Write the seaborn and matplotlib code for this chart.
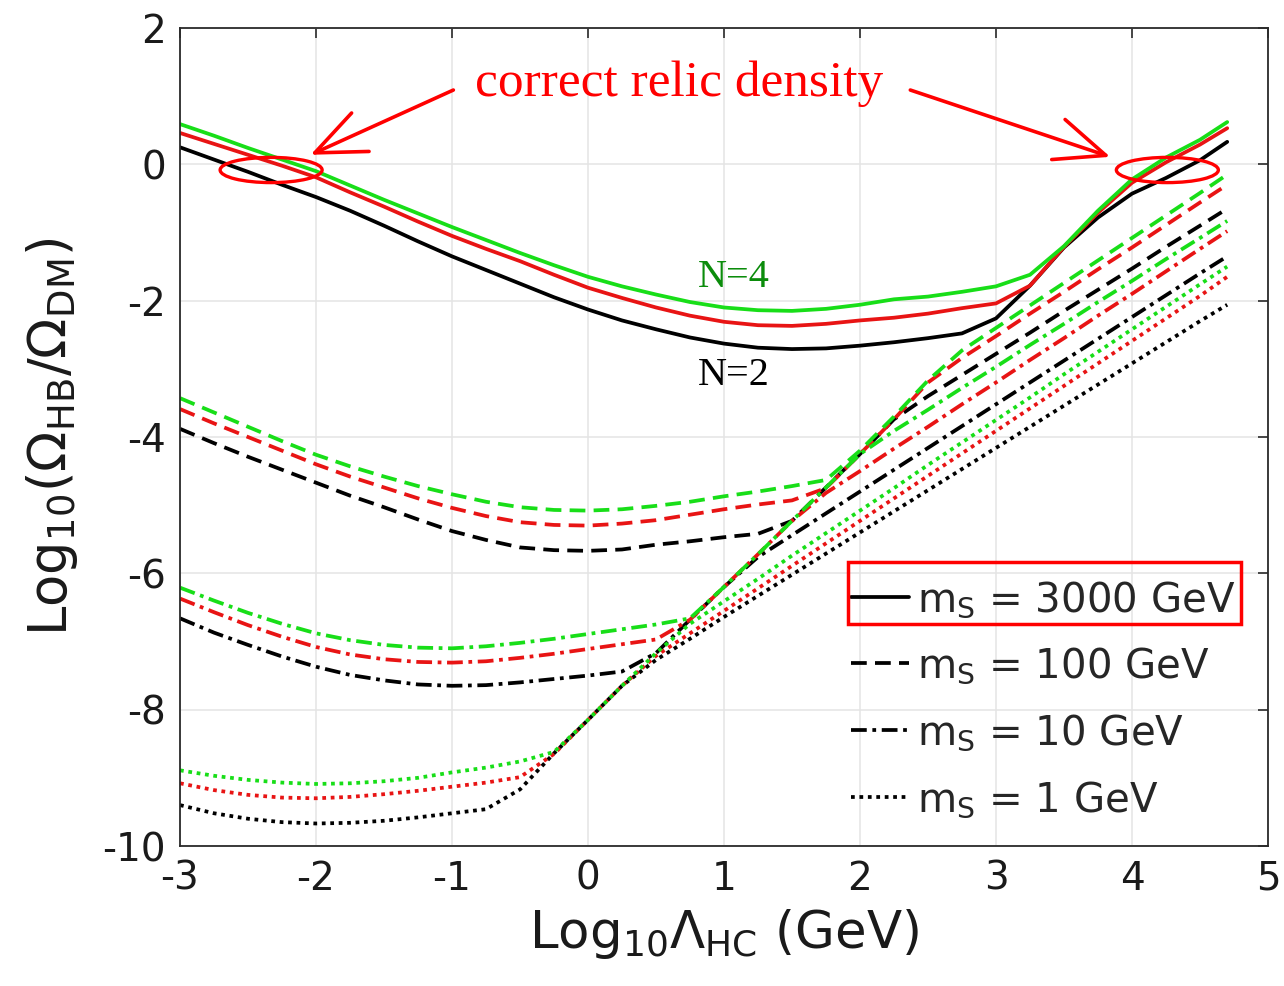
import numpy as np
import pandas as pd
import matplotlib
matplotlib.use("Agg")
import matplotlib.pyplot as plt
import seaborn as sns
from matplotlib.lines import Line2D
from matplotlib.patches import Ellipse, Rectangle

# Log10 Lambda_HC (GeV) sample points shared by all curves
lam = [-3, -2.75, -2.5, -2.25, -2, -1.75, -1.5, -1.25, -1, -0.75, -0.5, -0.25,
       0, 0.25, 0.5, 0.75, 1, 1.25, 1.5, 1.75, 2, 2.25, 2.5, 2.75,
       3, 3.25, 3.5, 3.75, 4, 4.25, 4.5, 4.7]

# m_S = 3000 GeV (solid)
m3000_N4 = [0.59, 0.42, 0.24, 0.07, -0.10, -0.31, -0.52, -0.72, -0.92, -1.11, -1.30, -1.48,
            -1.65, -1.79, -1.91, -2.02, -2.10, -2.14, -2.15, -2.12, -2.06, -1.98, -1.94, -1.87,
            -1.79, -1.62, -1.20, -0.68, -0.22, 0.10, 0.36, 0.62]
m3000_N3 = [0.46, 0.30, 0.14, -0.02, -0.19, -0.41, -0.62, -0.84, -1.05, -1.24, -1.42, -1.62,
            -1.81, -1.96, -2.10, -2.22, -2.31, -2.36, -2.37, -2.34, -2.29, -2.25, -2.19, -2.11,
            -2.04, -1.78, -1.21, -0.71, -0.27, 0.03, 0.29, 0.53]
m3000_N2 = [0.25, 0.07, -0.11, -0.30, -0.48, -0.68, -0.90, -1.13, -1.35, -1.55, -1.75, -1.95,
            -2.13, -2.29, -2.42, -2.54, -2.63, -2.69, -2.71, -2.70, -2.66, -2.61, -2.55, -2.48,
            -2.26, -1.78, -1.22, -0.78, -0.43, -0.20, 0.06, 0.33]

# m_S = 100 GeV (dashed)
m100_N4 = [-3.43, -3.64, -3.85, -4.06, -4.26, -4.43, -4.58, -4.72, -4.84, -4.95, -5.03, -5.07,
           -5.08, -5.06, -5.01, -4.95, -4.87, -4.80, -4.72, -4.63, -4.20, -3.70, -3.17, -2.73,
           -2.40, -2.07, -1.74, -1.41, -1.08, -0.75, -0.42, -0.15]
m100_N3 = [-3.59, -3.80, -4.00, -4.20, -4.40, -4.58, -4.74, -4.90, -5.04, -5.16, -5.25, -5.29,
           -5.30, -5.27, -5.22, -5.14, -5.06, -4.99, -4.93, -4.75, -4.25, -3.74, -3.20, -2.84,
           -2.52, -2.19, -1.87, -1.54, -1.22, -0.89, -0.56, -0.30]
m100_N2 = [-3.88, -4.09, -4.29, -4.48, -4.67, -4.86, -5.03, -5.21, -5.38, -5.51, -5.62, -5.66,
           -5.67, -5.65, -5.58, -5.53, -5.47, -5.42, -5.23, -4.74, -4.25, -3.74, -3.40, -3.09,
           -2.78, -2.47, -2.15, -1.84, -1.53, -1.21, -0.90, -0.65]

# m_S = 10 GeV (dash-dot)
m10_N4 = [-6.21, -6.40, -6.58, -6.74, -6.88, -6.98, -7.05, -7.09, -7.10, -7.07, -7.02, -6.96,
          -6.89, -6.82, -6.75, -6.66, -6.20, -5.72, -5.23, -4.74, -4.25, -3.91, -3.60, -3.28,
          -2.97, -2.65, -2.34, -2.02, -1.71, -1.39, -1.08, -0.83]
m10_N3 = [-6.37, -6.57, -6.76, -6.93, -7.08, -7.19, -7.26, -7.30, -7.31, -7.29, -7.24, -7.18,
          -7.11, -7.04, -6.97, -6.68, -6.20, -5.72, -5.23, -4.82, -4.50, -4.17, -3.85, -3.52,
          -3.20, -2.87, -2.55, -2.22, -1.90, -1.57, -1.24, -0.98]
m10_N2 = [-6.66, -6.87, -7.05, -7.22, -7.37, -7.49, -7.57, -7.63, -7.65, -7.64, -7.60, -7.55,
          -7.50, -7.44, -7.17, -6.68, -6.20, -5.76, -5.44, -5.12, -4.80, -4.48, -4.16, -3.84,
          -3.52, -3.20, -2.88, -2.56, -2.24, -1.92, -1.60, -1.35]

# m_S = 1 GeV (dotted)
m1_N4 = [-8.89, -8.97, -9.03, -9.07, -9.09, -9.08, -9.05, -9.00, -8.92, -8.85, -8.76, -8.62,
         -8.15, -7.65, -7.17, -6.74, -6.41, -6.08, -5.74, -5.41, -5.08, -4.75, -4.41, -4.08,
         -3.75, -3.42, -3.08, -2.75, -2.42, -2.09, -1.76, -1.50]
m1_N3 = [-9.08, -9.18, -9.25, -9.29, -9.30, -9.28, -9.24, -9.19, -9.13, -9.07, -8.99, -8.65,
         -8.15, -7.65, -7.21, -6.88, -6.55, -6.22, -5.89, -5.56, -5.23, -4.90, -4.57, -4.24,
         -3.91, -3.58, -3.25, -2.92, -2.59, -2.26, -1.93, -1.65]
m1_N2 = [-9.40, -9.52, -9.60, -9.65, -9.67, -9.66, -9.63, -9.58, -9.52, -9.46, -9.17, -8.64,
         -8.15, -7.65, -7.27, -6.96, -6.64, -6.33, -6.02, -5.71, -5.40, -5.09, -4.78, -4.47,
         -4.16, -3.85, -3.54, -3.23, -2.92, -2.61, -2.30, -2.06]

masses = ["3000", "100", "10", "1"]
n_values = ["N=2", "N=3", "N=4"]
legend_labels = ["3000 GeV", "100 GeV", "10 GeV", "1 GeV"]

GREEN = "#18de18"
RED = "#e81414"
LW = 2.7
palette = {"N=2": "black", "N=3": RED, "N=4": GREEN}
dash_map = {"3000": "", "100": (4.2, 2.2), "10": (4.2, 1.5, 1.0, 1.5), "1": (1, 1.25)}

series = {
    ("3000", "N=2"): m3000_N2, ("3000", "N=3"): m3000_N3, ("3000", "N=4"): m3000_N4,
    ("100", "N=2"): m100_N2, ("100", "N=3"): m100_N3, ("100", "N=4"): m100_N4,
    ("10", "N=2"): m10_N2, ("10", "N=3"): m10_N3, ("10", "N=4"): m10_N4,
    ("1", "N=2"): m1_N2, ("1", "N=3"): m1_N3, ("1", "N=4"): m1_N4,
}

frames = []
for (ms, n), vals in series.items():
    frames.append(pd.DataFrame({"lam": lam, "omega": vals, "N": n, "mS": ms}))
df = pd.concat(frames, ignore_index=True)

sns.set_theme(style="whitegrid")
plt.rcParams["font.family"] = ["DejaVu Sans"]
plt.rcParams["mathtext.fontset"] = "dejavusans"
plt.rcParams["axes.unicode_minus"] = False

fig = plt.figure(figsize=(12.84, 9.86), dpi=100)
ax = fig.add_axes([180 / 1284, 140 / 986, 1088 / 1284, 818 / 986])

sns.lineplot(data=df, x="lam", y="omega", hue="N", style="mS",
             hue_order=n_values, style_order=masses, palette=palette,
             dashes=dash_map, linewidth=LW, estimator=None, sort=False,
             legend=False, ax=ax)

ax.set_xlim(-3, 5)
ax.set_ylim(-10, 2)
ax.set_xticks(range(-3, 6))
ax.set_yticks(range(-10, 3, 2))
ax.set_facecolor("white")
ax.grid(True, color="#e4e4e4", linewidth=1.1)
for sp in ax.spines.values():
    sp.set_color("#2a2a2a")
    sp.set_linewidth(1.3)
ax.tick_params(axis="both", which="both", direction="in", length=7, width=1.2,
               color="#2a2a2a", labelcolor="#1a1a1a", top=True, right=True,
               labelsize=28, pad=10)

ax.set_xlabel(r"Log$_{10}\Lambda_{\mathregular{HC}}$ (GeV)", fontsize=37, color="#1a1a1a")
ax.set_ylabel(r"Log$_{10}$($\Omega_{\mathregular{HB}}$/$\Omega_{\mathregular{DM}}$)",
              fontsize=38, color="#1a1a1a")
ax.xaxis.set_label_coords(0.5, -0.074)
ax.yaxis.set_label_coords(-0.092, 0.5)

# annotation text and arrows
ax.text(0.67, 1.0, "correct relic density", color="red", fontsize=37,
        family="Liberation Serif", ha="center", va="baseline")
arrow_kw = dict(arrowstyle="->,head_length=0.9,head_width=0.38", color="red",
                lw=2.6, shrinkA=0, shrinkB=0, mutation_scale=40)
ax.annotate("", xy=(-2.04, 0.14), xytext=(-0.99, 1.09), arrowprops=arrow_kw)
ax.annotate("", xy=(3.84, 0.11), xytext=(2.37, 1.09), arrowprops=arrow_kw)
for cx in (-2.33, 4.26):
    ax.add_patch(Ellipse((cx, -0.083), 0.75, 0.37, fill=False, edgecolor="red",
                         lw=2.4, zorder=5))

ax.text(1.07, -1.80, "N=4", color="#0b8c0b", fontsize=29,
        family="Liberation Serif", ha="center", va="baseline")
ax.text(1.07, -3.24, "N=2", color="black", fontsize=29,
        family="Liberation Serif", ha="center", va="baseline")

# legend for m_S line styles
handles = [Line2D([], [], color="black", lw=LW,
                  dashes=dash_map[m] if dash_map[m] else (None, None))
           for m in masses]
labels = [r"$\mathregular{m_S}$ = " + t for t in legend_labels]
leg = ax.legend(handles, labels, loc="upper left", bbox_to_anchor=(851 / 1284, 1 - 579 / 986),
                bbox_transform=fig.transFigure, frameon=False, fontsize=29,
                handlelength=1.45, handletextpad=0.2, labelspacing=0.64,
                borderpad=0, borderaxespad=0)

fig.patches.append(Rectangle((848 / 1284, 1 - 624 / 986), 393 / 1284, 62 / 986,
                             transform=fig.transFigure, fill=False, edgecolor="red",
                             lw=2.5, zorder=10))

fig.savefig("out.png", dpi=100)
